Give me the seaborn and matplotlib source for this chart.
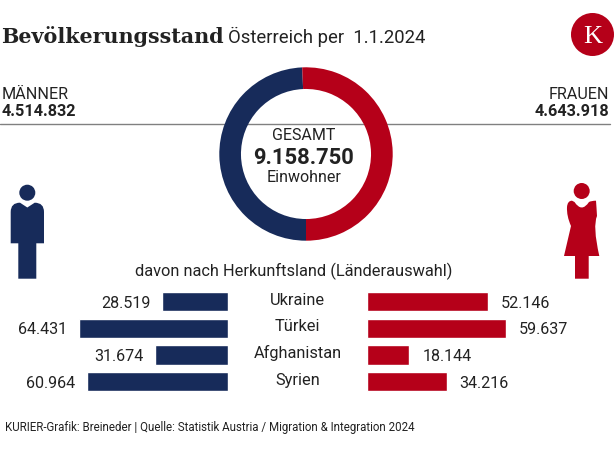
import matplotlib
matplotlib.use("Agg")
import matplotlib.pyplot as plt
from matplotlib.patches import Circle, PathPatch
from matplotlib.path import Path
import pandas as pd
import seaborn as sns

# Daten
geschlecht = ["Männer", "Frauen"]
gesamt_werte = [4514832, 4643918]
gesamt_labels = ["4.514.832", "4.643.918"]
laender = ["Ukraine", "Türkei", "Afghanistan", "Syrien"]
maenner = [28519, 64431, 31674, 60964]
frauen = [52146, 59637, 18144, 34216]

NAVY = "#172B5A"
RED = "#B50019"
TXT = "#222222"
W, H = 616, 454
PX_PER_PERSON = 0.00232

sns.set_theme(style="white")
plt.rcParams["font.family"] = ["Roboto", "DejaVu Sans"]


def axes_px(fig, x0, y0, x1, y1, **kw):
    # Achsen in Pixelkoordinaten (Ursprung oben links)
    return fig.add_axes([x0 / W, 1 - y1 / H, (x1 - x0) / W, (y1 - y0) / H], **kw)


def fmt(v):
    return f"{int(v):,}".replace(",", ".")


fig = plt.figure(figsize=(W / 100, H / 100), dpi=100, facecolor="white")

# Hintergrund-Achse für Text und Deko
bg = axes_px(fig, 0, 0, W, H)
bg.set_xlim(0, W)
bg.set_ylim(H, 0)
bg.axis("off")

bg.text(1, 43, "Bevölkerungsstand", family="DejaVu Serif", weight="bold", fontsize=14.9, color=TXT)
bg.text(228, 43, "Österreich per  1.1.2024", fontsize=13.3, color=TXT)

# Logo
bg.add_patch(Circle((592.5, 34.5), 21.5, color=RED, lw=0))
bg.text(592.5, 43, "K", family="Liberation Serif", fontsize=19, color="white", ha="center")

# Männer / Frauen
bg.plot([0, 610], [124.3, 124.3], color="#808080", lw=1)
bg.text(2, 99, "MÄNNER", fontsize=11.6, color=TXT)
bg.text(2, 116.5, gesamt_labels[0], fontsize=11.7, weight="bold", color=TXT)
bg.text(609.5, 99, "FRAUEN", fontsize=11.6, color=TXT, ha="right")
bg.text(609.5, 116.5, gesamt_labels[1], fontsize=11.7, weight="bold", color=TXT, ha="right")

# Donut
donut = axes_px(fig, 219.3, 67.3, 392.7, 240.7)
donut.pie(gesamt_werte, colors=[NAVY, RED], startangle=270, counterclock=False,
          radius=1, wedgeprops={"width": 0.25, "linewidth": 0})
donut.set_xlim(-1, 1)
donut.set_ylim(-1, 1)
donut.patch.set_alpha(0)
bg.text(304, 140, "GESAMT", fontsize=11.5, color=TXT, ha="center")
bg.text(304, 164, "9.158.750", fontsize=15.8, weight="bold", color=TXT, ha="center")
bg.text(304, 182.5, "Einwohner", fontsize=11.5, color=TXT, ha="center")

M, L, C = Path.MOVETO, Path.LINETO, Path.CURVE3

# Figur Mann
bg.add_patch(Circle((27.3, 192.7), 8, color=NAVY, lw=0))
mann = [(10.7, 243.3), (10.7, 212), (10.7, 202.7), (20, 202.7), (27.3, 207.5), (34.7, 202.7),
        (44, 202.7), (44, 212), (44, 243.3), (36.3, 243.3), (36.3, 278.7), (18.3, 278.7),
        (18.3, 243.3), (10.7, 243.3)]
mann_codes = [M, L, C, C, L, L, C, C, L, L, L, L, L, L]
bg.add_patch(PathPatch(Path(mann, mann_codes), fc=NAVY, lw=0))

# Figur Frau
bg.add_patch(Circle((581.7, 191), 8, color=RED, lw=0))
frau = [(564, 256), (571, 226), (566.5, 216), (567, 207), (567.5, 200.7), (572, 200.7),
        (574.5, 202), (581.7, 213), (589, 202), (591.5, 200.7), (596, 200.7), (596.5, 207),
        (597, 216), (592.5, 226), (599.3, 256), (588.7, 256), (588.7, 278.7), (575, 278.7),
        (575, 256), (564, 256)]
frau_codes = [M, L, C, C, C, C, L, C, C, C, C, C, C, C, L, L, L, L, L, L]
bg.add_patch(PathPatch(Path(frau, frau_codes), fc=RED, lw=0))

# Länderauswahl
bg.text(294, 275.7, "davon nach Herkunftsland (Länderauswahl)", fontsize=11.8, color=TXT, ha="center")
df = pd.DataFrame({"land": laender, "maenner": maenner, "frauen": frauen})

ax_l = axes_px(fig, 0, 288.3, 228, 395)
sns.barplot(data=df, y="land", x="maenner", color=NAVY, saturation=1, width=0.73, ax=ax_l)
ax_l.set_xlim(228 / PX_PER_PERSON, 0)

ax_r = axes_px(fig, 367.2, 288.3, W, 395)
sns.barplot(data=df, y="land", x="frauen", color=RED, saturation=1, width=0.73, ax=ax_r)
ax_r.set_xlim(0, (W - 367.2) / PX_PER_PERSON)

# padding in Punkten
for ax, pad in ((ax_l, 8), (ax_r, 9.4)):
    ax.patch.set_alpha(0)
    ax.set(xlabel="", ylabel="", xticks=[], yticks=[])
    sns.despine(ax=ax, left=True, bottom=True)
    beschriftung = ax.bar_label(ax.containers[0], labels=[fmt(v) for v in ax.containers[0].datavalues],
                                padding=pad, fontsize=11.6, color=TXT)
    for t in beschriftung:
        t.xyann = (t.xyann[0], -1.2)

for i, land in enumerate(laender):
    y = ax_l.get_yaxis_transform().transform((0, i))[1]
    bg.text(297.5, H - y - 1.5, land, fontsize=11.8, color=TXT, ha="center", va="center")

bg.text(5, 430.7, "KURIER-Grafik: Breineder | Quelle: Statistik Austria / Migration & Integration 2024",
        fontsize=8.3, color=TXT)

fig.savefig("out.png", dpi=100)
